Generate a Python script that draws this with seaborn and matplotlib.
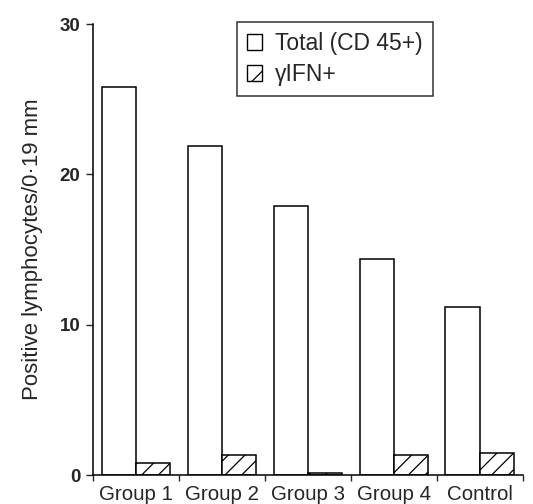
import numpy as np
import pandas as pd
import matplotlib
matplotlib.use('Agg')
import matplotlib.pyplot as plt
from matplotlib.patches import Rectangle
import seaborn as sns

# --- values ---
GROUPS = ['Group 1', 'Group 2', 'Group 3', 'Group 4', 'Control']
TOTAL_CD45 = [25.8, 21.9, 17.9, 14.4, 11.2]
IFN_GAMMA = [0.8, 1.3, 0.15, 1.35, 1.45]
SERIES = ['Total (CD 45+)', '\u03b3IFN+']
Y_TICKS = [0, 10, 20, 30]

df = pd.DataFrame({
    'group': GROUPS * 2,
    'series': [SERIES[0]] * len(GROUPS) + [SERIES[1]] * len(GROUPS),
    'value': TOTAL_CD45 + IFN_GAMMA,
})

sns.set_theme(style='ticks')
plt.rcParams['font.family'] = ['Liberation Sans', 'DejaVu Sans']
plt.rcParams['hatch.linewidth'] = 0.9

fig = plt.figure(figsize=(5.33, 5.04), dpi=100)
ax = fig.add_axes([0.1745, 0.0575, 0.981 - 0.1745, 0.952 - 0.0575])

sns.barplot(data=df, x='group', y='value', hue='series', order=GROUPS,
            hue_order=SERIES, palette=['white', 'white'], edgecolor='black',
            linewidth=1.1, width=0.8, saturation=1, legend=False, ax=ax)

for bar in ax.containers[1]:
    bar.set_hatch('//')

ax.set_xlim(-0.5, len(GROUPS) - 0.5)
ax.set_ylim(0, 30)
ax.set_yticks(Y_TICKS)
ax.set_xticks(range(len(GROUPS)))
ax.set_xticks(np.arange(-0.5, len(GROUPS), 1.0), minor=True)
ax.tick_params(axis='x', which='major', length=0, pad=7, labelsize=14.8)
ax.tick_params(axis='x', which='minor', length=4, width=1, direction='out')
ax.tick_params(axis='y', length=5, width=1, labelsize=13.5, pad=4)
for lab in ax.get_yticklabels():
    lab.set_fontweight('bold')

ax.set_xlabel('')
ax.set_ylabel('Positive lymphocytes/0\u00b719 mm', fontsize=16, labelpad=12)

sns.despine(ax=ax)
for s in ['left', 'bottom']:
    ax.spines[s].set_linewidth(1.1)
    ax.spines[s].set_color('black')

handles = [Rectangle((0, 0), 1, 1, facecolor='white', edgecolor='black', linewidth=1),
           Rectangle((0, 0), 1, 1, facecolor='white', edgecolor='black', linewidth=1, hatch='/')]
leg = ax.legend(handles, SERIES, loc='upper left', bbox_to_anchor=(0.335, 1.004),
                fontsize=16.5, frameon=True, fancybox=False, edgecolor='black',
                handlelength=0.65, handleheight=0.65, handletextpad=0.6,
                borderpad=0.42, labelspacing=0.35, borderaxespad=0)
leg.get_frame().set_linewidth(1.1)

fig.savefig('out.png', dpi=100)
